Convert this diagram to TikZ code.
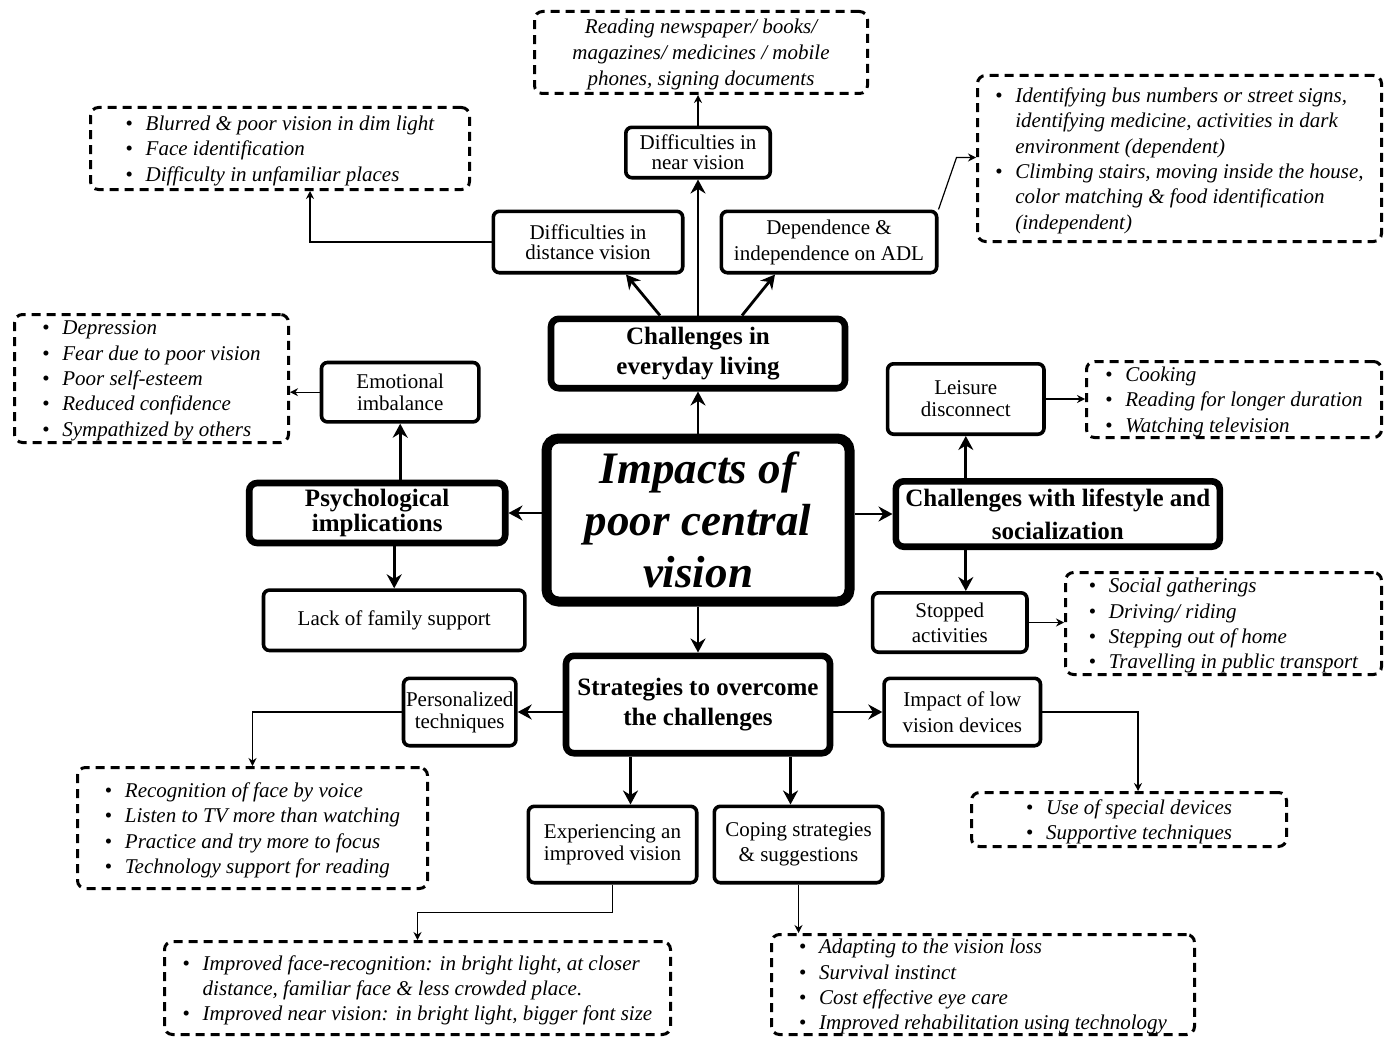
\documentclass[tikz,border=0pt]{standalone}
\usepackage{fontspec}
\setmainfont{Liberation Serif}
\usetikzlibrary{arrows.meta,positioning,calc}

\newcommand{\bl}{\makebox[10pt][l]{\upshape\textbullet}}
\newcommand{\ind}{\hspace*{10pt}}

\begin{document}
\begin{tikzpicture}[
    x=0.5pt, y=-0.5pt,
    hub/.style={rectangle, draw, line width=5pt, rounded corners=6pt, align=center, inner sep=0pt, font=\fontsize{22.5}{26}\selectfont\bfseries\itshape},
    head/.style={rectangle, draw, line width=3.3pt, rounded corners=4pt, align=center, inner sep=0pt, font=\fontsize{12.5}{15}\selectfont\bfseries},
    leaf/.style={rectangle, draw, line width=1.8pt, rounded corners=3pt, align=center, inner sep=0pt, font=\fontsize{10.5}{11}\selectfont},
    notes/.style={rectangle, draw, dash pattern=on 4.5pt off 3pt, line width=1.5pt, rounded corners=4pt, align=left, inner xsep=1pt, inner ysep=0pt, text depth=-1.5pt, font=\fontsize{10.5}{12.7}\selectfont\itshape},
    arrow/.style={-{Stealth[length=7pt,width=7.5pt]}, line width=1.4pt},
    pointer/.style={-{Stealth[length=4pt,width=4pt]}, line width=0.6pt}
]
    \useasboundingbox (0,0) rectangle (1390,1038);

    % Nodes
    \node[hub, minimum width=151.5pt, minimum height=81.5pt] (impact) at (698,520) {Impacts of\\poor central\\vision};
    \node[head, minimum width=147pt, minimum height=34.7pt, above=21pt of impact] (everyday) {Challenges in\\everyday living};
    \node[head, minimum width=128pt, minimum height=30pt, left=16.5pt of impact, yshift=3.5pt, font=\fontsize{12.5}{10}\selectfont\bfseries] (psych) {Psychological\\implications};
    \node[head, minimum width=162pt, minimum height=32.7pt, right=19pt of impact, yshift=3pt, font=\fontsize{12.5}{16.5}\selectfont\bfseries] (lifestyle) {Challenges with lifestyle and\\socialization};
    \node[head, minimum width=132pt, minimum height=48.7pt, below=23pt of impact] (strategies) {Strategies to overcome\\the challenges};

    \node[leaf, minimum width=72.2pt, minimum height=25.2pt, above=68pt of everyday, font=\fontsize{10.5}{10}\selectfont] (near) {Difficulties in\\near vision};
    \node[leaf, minimum width=94.7pt, minimum height=30.7pt, above=20.5pt of everyday, xshift=-55pt, font=\fontsize{10.5}{10}\selectfont] (distance) {Difficulties in\\distance vision};
    \node[leaf, minimum width=107.7pt, minimum height=30.7pt, above=20.5pt of everyday, xshift=65.5pt, font=\fontsize{10.5}{13}\selectfont] (adl) {Dependence \&\\independence on ADL};
    \node[leaf, minimum width=78.7pt, minimum height=29.7pt, above=28pt of psych, xshift=11.5pt] (emotional) {Emotional\\imbalance};
    \node[leaf, minimum width=130.7pt, minimum height=30.2pt, below=21pt of psych, xshift=8.5pt] (lackfam) {Lack of family support};
    \node[leaf, minimum width=78.2pt, minimum height=35.2pt, above=21pt of lifestyle, xshift=-46pt] (leisure) {Leisure\\disconnect};
    \node[leaf, minimum width=77.2pt, minimum height=29.7pt, below=20.5pt of lifestyle, xshift=-54pt, font=\fontsize{10.5}{12.5}\selectfont] (stopped) {Stopped\\activities};
    \node[leaf, minimum width=56.2pt, minimum height=33.7pt, left=22.5pt of strategies, yshift=-3.75pt] (personalized) {Personalized\\techniques};
    \node[leaf, minimum width=78.2pt, minimum height=33.7pt, right=24.5pt of strategies, yshift=-3.75pt, font=\fontsize{10.5}{13}\selectfont] (ldv) {Impact of low\\vision devices};
    \node[leaf, minimum width=84.2pt, minimum height=38.2pt, below=24pt of strategies, xshift=-42.75pt] (experiencing) {Experiencing an\\improved vision};
    \node[leaf, minimum width=84.2pt, minimum height=38.2pt, below=24pt of strategies, xshift=50.25pt, font=\fontsize{10.5}{12.5}\selectfont] (coping) {Coping strategies\\\& suggestions};

    % Lists
    \node[notes, align=center, minimum width=166.5pt, minimum height=41pt, font=\fontsize{10.5}{13}\selectfont\itshape] (nearlist) at (701,52.5) {Reading newspaper/ books/\\magazines/ medicines / mobile\\phones, signing documents};
    \node[notes, minimum width=189.5pt, minimum height=41pt] (distlist) at (280,148.5) {\bl Blurred \& poor vision in dim light\\\bl Face identification\\\bl Difficulty in unfamiliar places};
    \node[notes, minimum width=202pt, minimum height=83pt] (adllist) at (1179.5,158.5) {\bl Identifying bus numbers or street signs,\\\ind identifying medicine, activities in dark\\\ind environment (dependent)\\\bl Climbing stairs, moving inside the house,\\\ind color matching \& food identification\\\ind (independent)};
    \node[notes, minimum width=137pt, minimum height=64pt] (emolist) at (151.5,378.5) {\bl Depression\\\bl Fear due to poor vision\\\bl Poor self-esteem\\\bl Reduced confidence\\\bl Sympathized by others};
    \node[notes, minimum width=147.5pt, minimum height=38pt] (leisurelist) at (1234,399.5) {\bl Cooking\\\bl Reading for longer duration\\\bl Watching television};
    \node[notes, minimum width=158pt, minimum height=51pt] (stoplist) at (1223.5,623.5) {\bl Social gatherings\\\bl Driving/ riding\\\bl Stepping out of home\\\bl Travelling in public transport};
    \node[notes, minimum width=175pt, minimum height=60.5pt] (perslist) at (252.5,828) {\bl Recognition of face by voice\\\bl Listen to TV more than watching\\\bl Practice and try more to focus\\\bl Technology support for reading};
    \node[notes, minimum width=157.5pt, minimum height=27pt] (ldvlist) at (1129,819.5) {\bl Use of special devices\\\bl Supportive techniques};
    \node[notes, minimum width=253pt, minimum height=46.5pt] (improvlist) at (417.5,988) {\bl Improved face-recognition: in bright light, at closer\\\ind distance, familiar face \& less crowded place.\\\bl Improved near vision: in bright light, bigger font size};
    \node[notes, minimum width=211.5pt, minimum height=50pt] (copinglist) at (983,984.5) {\bl Adapting to the vision loss\\\bl Survival instinct\\\bl Cost effective eye care\\\bl Improved rehabilitation using technology};

    % Arrows
    \draw[arrow] (impact.north) -- (everyday.south);
    \draw[arrow] (everyday.north) -- (near.south);
    \draw[arrow] ($(everyday.north)+(-19pt,0)$) -- ($(distance.south)+(19pt,0)$);
    \draw[arrow] ($(everyday.north)+(22pt,0)$) -- ($(adl.south)+(-27pt,0)$);
    \draw[arrow] (impact.west |- psych) -- (psych.east);
    \draw[arrow] (psych.north -| emotional) -- (emotional.south);
    \draw[arrow] (psych.south -| lackfam) -- (lackfam.north);
    \draw[arrow] (impact.east |- lifestyle) -- (lifestyle.west);
    \draw[arrow] (lifestyle.north -| leisure) -- (leisure.south);
    \draw[arrow] (lifestyle.south -| leisure) -- (stopped.north -| leisure);
    \draw[arrow] (impact.south) -- (strategies.north);
    \draw[arrow] (strategies.west |- personalized) -- (personalized.east);
    \draw[arrow] (strategies.east |- ldv) -- (ldv.west);
    \draw[arrow] ($(strategies.south -| experiencing)+(9pt,0)$) -- ($(experiencing.north)+(9pt,0)$);
    \draw[arrow] ($(strategies.south -| coping)+(-4pt,0)$) -- ($(coping.north)+(-4pt,0)$);

    \draw[pointer] (distance.west) -| ($(distlist.south)+(15pt,0)$);
    \draw[pointer] (near.north) -- (near.north |- nearlist.south);
    \draw[pointer] (adl.north east) -- ++(9pt,26pt) coordinate (bend) -- (bend -| adllist.west);
    \draw[pointer] (emotional.west) -- (emotional.west -| emolist.east);
    \draw[pointer] (leisure.east) -- (leisure.east -| leisurelist.west);
    \draw[pointer] (stopped.east) -- (stopped.east -| stoplist.west);
    \draw[pointer] (personalized.west) -| (perslist.north);
    \draw[pointer] (ldv.east) -| ($(ldvlist.north)+(4.5pt,0)$);
    \draw[pointer] (experiencing.south) -- ++(0,-14pt) -| (improvlist.north);
    \draw[pointer] (coping.south) -- (coping.south |- copinglist.north);
\end{tikzpicture}
\end{document}
